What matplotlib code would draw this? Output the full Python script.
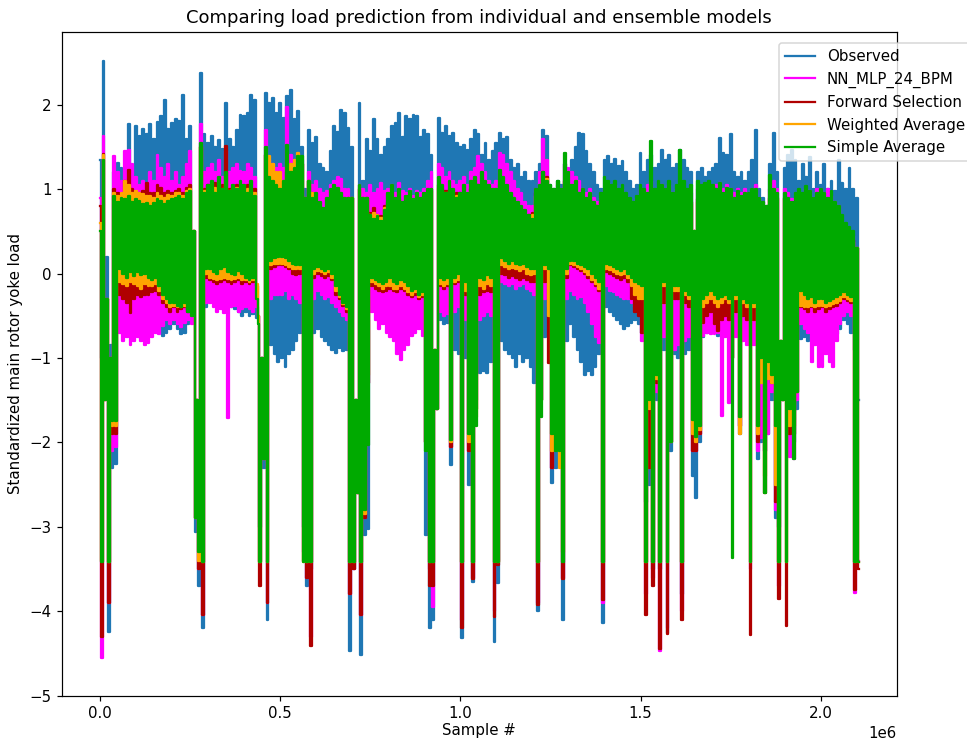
import numpy as np
import matplotlib
matplotlib.use("Agg")
import matplotlib.pyplot as plt

# envelope values, one pair (upper, lower) every 10k samples
STEP = 10000

obs_hi = [1.35, 2.52, 0.20, -0.85, 1.20, 1.31, 1.25, 1.18, 1.77, 1.22,
          1.75, 1.63, 1.71, 1.66, 1.77, 1.60, 1.80, 1.87, 2.06, 1.71,
          1.79, 1.83, 1.81, 2.12, 1.60, 1.75, 0.50, -1.50, 2.38, 1.65,
          1.55, 1.63, 1.50, 1.58, 1.48, 2.02, 1.60, 1.50, 1.70, 1.88,
          1.87, 1.90, 2.12, 2.06, -0.50, -1.00, 2.14, 2.02, 2.08, 1.90,
          2.02, 1.85, 2.10, 2.18, 1.83, 1.93, 1.50, 1.00, 1.70, 1.55,
          1.62, 1.30, 1.25, 1.20, 1.45, 1.75, 1.68, 1.94, 1.90, 1.73,
          1.50, -1.50, 2.02, 1.10, 1.60, 1.45, 1.83, 1.60, 1.40, 1.50,
          1.60, 1.75, 1.79, 1.90, 1.62, 1.87, 1.83, 1.88, 1.87, 1.62,
          1.70, 1.65, 1.40, -0.90, 1.85, 1.67, 1.75, 1.63, 1.67, 1.55,
          1.50, 1.52, 1.47, 1.60, 1.70, 1.65, 1.40, 1.55, 1.35, 1.45,
          1.55, 1.67, 1.60, 1.62, 1.35, 1.25, 1.30, 1.15, 1.20, 1.10,
          1.10, 1.20, 1.30, 1.70, 1.63, 1.05, 1.00, 1.10, 1.05, 1.30,
          1.20, 1.35, 1.50, 1.67, 1.65, 1.45, 1.30, 1.20, 1.05, 1.00,
          1.35, 1.39, 1.30, 1.36, 1.27, 1.33, 1.20, 1.10, 1.00, 1.05,
          1.43, 1.20, 1.35, 1.40, 1.25, 1.30, 1.47, 1.35, 1.40, 1.25,
          1.30, 1.47, 1.35, 1.25, 1.20, 0.50, 1.20, 1.25, 1.15, 1.20,
          1.25, 1.30, 1.61, 1.43, 1.40, 1.65, 1.20, 1.15, 1.20, 1.10,
          1.20, 1.35, 1.70, 1.00, 0.90, 0.80, 1.30, 1.67, 1.20, -0.80,
          1.25, 1.40, 1.47, 1.35, 1.10, 1.30, 1.15, 1.38, 1.00, 1.20,
          1.05, 1.30, 1.00, 1.10, 0.98, 1.35, 1.07, 1.00, 1.25, 1.00, 0.90]
obs_lo = [-1.00, -1.10, -4.25, -2.30, -2.25, -0.45, -0.40, -0.45, -0.40, -0.45,
          -0.40, -0.45, -0.40, -0.45, -0.50, -0.55, -0.60, -0.74, -0.70, -0.65,
          -0.60, -0.65, -0.72, -0.70, -0.60, -0.55, -3.06, -3.70, -4.20, -0.40,
          -0.30, -0.28, -0.32, -0.30, -0.35, -0.35, -0.40, -0.42, -0.45, -0.50,
          -0.45, -0.50, -0.48, -0.52, -3.00, -2.30, -4.10, -0.85, -0.95, -1.05,
          -1.00, -1.10, -0.95, -0.90, -0.80, -0.70, -3.00, -3.70, -3.50, -0.70,
          -0.65, -0.75, -0.80, -0.85, -0.90, -0.94, -0.88, -0.92, -0.90, -4.47,
          -3.50, -2.60, -4.52, -3.10, -3.03, -0.40, -0.45, -0.40, -0.42, -0.45,
          -0.45, -0.50, -0.45, -0.50, -0.48, -0.50, -0.45, -0.50, -0.45, -0.50,
          -3.10, -4.20, -4.10, -1.60, -0.55, -0.60, -0.58, -2.27, -0.90, -0.95,
          -4.32, -1.00, -2.50, -3.65, -1.10, -1.18, -1.15, -1.18, -1.05, -4.36,
          -3.67, -0.80, -0.90, -0.95, -1.00, -1.10, -0.95, -1.05, -1.00, -1.10,
          -1.30, -4.00, -1.50, -0.75, -0.70, -2.48, -2.30, -1.90, -4.10, -0.80,
          -0.60, -0.75, -0.90, -1.05, -1.20, -1.15, -1.20, -1.10, -0.95, -4.14,
          -0.40, -0.45, -0.50, -0.55, -0.60, -0.66, -0.62, -0.58, -0.55, -0.60,
          -0.70, -2.70, -2.50, -3.50, -1.50, -3.50, -0.90, -4.26, -2.10, -0.95,
          -1.00, -3.80, -0.95, -0.90, -2.40, -2.66, -2.00, -0.75, -0.70, -0.65,
          -0.70, -0.74, -0.70, -0.72, -0.68, -1.00, -0.70, -1.90, -0.75, -0.80,
          -0.85, -0.80, -2.20, -2.00, -2.10, -1.90, -1.50, -2.90, -3.00, -1.50,
          -1.00, -2.10, -2.00, -1.60, -0.78, -0.75, -0.80, -0.78, -0.75, -0.80,
          -0.78, -0.80, -0.75, -0.78, -0.72, -0.65, -0.55, -0.60, -0.70, -0.90, -1.50]

nn_hi = [0.90, 1.63, -0.30, -1.00, 1.39, 1.20, 1.10, 1.45, 1.47, 1.30,
         1.15, 1.05, 1.10, 1.02, 1.20, 1.10, 1.40, 1.25, 1.15, 1.30,
         1.10, 1.20, 1.05, 1.15, 1.30, 1.45, 0.50, -1.50, 1.77, 1.20,
         1.25, 1.30, 1.20, 1.35, 1.15, 1.45, 1.20, 1.25, 1.30, 1.22,
         1.20, 1.30, 1.25, 1.15, -0.50, -1.00, 1.70, 1.35, 1.30, 1.25,
         1.30, 1.25, 1.98, 1.40, 1.35, 1.30, 1.35, 0.90, 1.20, 1.05,
         1.10, 1.00, 0.95, 0.98, 1.05, 1.10, 1.15, 1.12, 1.00, 1.00,
         0.90, -1.50, 1.05, 1.00, 0.95, 1.05, 0.95, 1.00, 1.07, 0.98,
         1.00, 1.05, 0.95, 1.07, 0.98, 0.95, 1.00, 0.92, 0.98, 0.95,
         1.00, 1.10, 1.20, -0.90, 1.30, 1.25, 1.15, 1.20, 1.10, 1.05,
         1.10, 1.15, 1.05, 1.20, 1.25, 1.39, 1.30, 1.20, 1.10, 1.05,
         1.10, 1.43, 1.40, 1.30, 1.20, 1.10, 1.00, 0.95, 0.85, 0.80,
         0.80, 1.00, 1.20, 1.59, 1.35, 1.00, 0.95, 1.05, 1.00, 1.30,
         1.25, 1.20, 1.15, 1.10, 1.00, 0.95, 1.00, 0.90, 0.85, 0.90,
         1.00, 1.07, 1.00, 1.05, 0.95, 1.00, 0.92, 0.88, 0.84, 0.90,
         1.00, 0.95, 1.05, 1.10, 0.95, 1.00, 1.05, 1.00, 1.05, 0.95,
         1.00, 1.05, 1.00, 0.95, 0.95, 0.50, 1.00, 1.05, 1.00, 1.02,
         1.02, 1.05, 1.07, 1.00, 1.05, 1.00, 0.95, 1.00, 0.95, 1.00,
         0.95, 1.00, 1.05, 0.90, 0.85, 0.75, 1.00, 1.10, 1.00, -0.80,
         1.00, 0.95, 0.88, 0.90, 0.95, 0.92, 1.00, 0.98, 0.90, 1.00,
         1.00, 0.95, 1.00, 0.92, 0.85, 0.80, 0.60, 0.55, 0.50, 0.45, 0.30]
nn_lo = [-4.55, -1.50, -3.90, -2.10, -2.05, -0.70, -0.80, -0.75, -0.85, -0.80,
         -0.75, -0.80, -0.85, -0.82, -0.75, -0.70, -0.72, -0.62, -0.55, -0.60,
         -0.55, -0.60, -0.63, -0.58, -0.55, -0.60, -2.90, -3.50, -4.05, -0.35,
         -0.35, -0.40, -0.45, -0.42, -0.47, -1.71, -0.40, -0.38, -0.45, -0.42,
         -0.40, -0.42, -0.45, -0.40, -3.40, -2.20, -3.90, -0.30, -0.25, -0.25,
         -0.25, -0.20, -0.30, -0.25, -0.30, -0.35, -3.30, -3.60, -4.30, -0.30,
         -0.20, -0.25, -0.30, -0.28, -0.35, -0.40, -0.45, -0.50, -0.55, -3.80,
         -3.50, -2.60, -4.05, -2.90, -1.30, -0.45, -0.55, -0.66, -0.60, -0.70,
         -0.75, -0.80, -0.95, -1.02, -0.90, -0.85, -0.74, -0.70, -0.65, -0.74,
         -2.00, -3.50, -3.95, -1.60, -0.45, -0.50, -0.48, -2.05, -0.45, -0.40,
         -4.10, -0.55, -2.10, -3.60, -1.50, -0.55, -0.50, -0.45, -0.50, -4.00,
         -3.40, -0.10, -0.12, -0.15, -0.12, -0.18, -0.15, -0.12, -0.18, -0.20,
         -0.25, -3.90, -1.50, -0.30, -0.40, -2.30, -2.00, -1.90, -3.60, -0.30,
         -0.20, -0.25, -0.30, -0.28, -0.35, -0.45, -0.60, -0.75, -0.82, -3.90,
         -0.15, -0.20, -0.22, -0.25, -0.28, -0.30, -0.30, -0.35, -0.40, -0.45,
         -0.80, -3.80, -2.30, -3.60, -1.40, -4.47, -0.75, -4.20, -2.00, -0.90,
         -0.85, -4.00, -0.80, -0.75, -2.10, -2.10, -1.90, -0.74, -0.70, -0.72,
         -0.72, -0.70, -1.69, -0.75, -1.53, -1.00, -0.75, -1.80, -0.80, -0.85,
         -3.50, -0.85, -2.10, -1.95, -2.10, -1.90, -1.40, -2.80, -3.70, -1.50,
         -1.00, -2.17, -2.20, -1.50, -0.60, -0.65, -0.70, -1.05, -0.85, -1.10,
         -1.10, -0.95, -1.05, -1.10, -0.80, -0.60, -0.50, -0.45, -0.50, -3.78, -3.40]

fs_hi = [0.80, 1.42, -0.30, -1.00, 1.00, 0.95, 0.90, 1.10, 1.23, 1.00,
         0.92, 0.95, 0.98, 1.07, 0.95, 0.96, 1.05, 1.02, 0.95, 0.98,
         0.95, 0.98, 1.00, 0.95, 1.02, 1.05, 0.50, -1.50, 1.50, 1.00,
         1.05, 1.00, 1.08, 1.02, 1.05, 1.51, 1.00, 1.02, 1.05, 1.00,
         1.00, 1.05, 1.02, 1.00, -0.50, -1.00, 1.40, 1.10, 1.08, 1.12,
         1.10, 1.05, 1.20, 1.10, 1.15, 1.20, 1.30, 0.90, 1.10, 0.95,
         0.80, 0.72, 0.70, 0.75, 0.85, 0.90, 0.95, 0.92, 0.85, 0.90,
         0.90, -1.50, 1.00, 0.90, 0.90, 0.72, 0.78, 0.70, 0.68, 0.80,
         0.85, 0.90, 0.85, 0.88, 0.80, 0.82, 0.85, 0.80, 0.78, 0.82,
         0.85, 0.95, 1.00, -0.90, 1.05, 1.00, 0.98, 1.00, 0.95, 0.95,
         0.95, 0.95, 0.90, 1.00, 1.00, 1.05, 1.02, 0.98, 0.95, 0.95,
         0.95, 1.05, 1.00, 0.95, 0.90, 0.85, 0.80, 0.75, 0.70, 0.70,
         0.72, 0.95, 1.00, 1.20, 1.15, 0.95, 0.90, 1.00, 0.95, 1.10,
         1.05, 1.00, 0.95, 0.92, 0.88, 0.85, 0.88, 0.82, 0.80, 0.85,
         0.85, 0.90, 0.85, 0.88, 0.82, 0.85, 0.80, 0.78, 0.75, 0.78,
         0.85, 0.90, 0.88, 0.95, 0.85, 0.90, 0.92, 0.90, 0.88, 0.85,
         0.88, 0.90, 0.88, 0.85, 0.85, 0.50, 0.88, 0.90, 0.88, 0.90,
         0.90, 0.92, 0.95, 0.90, 0.92, 0.90, 0.85, 0.88, 0.85, 0.88,
         0.85, 0.88, 0.90, 0.85, 0.80, 0.70, 0.90, 0.95, 0.90, -0.80,
         0.90, 0.85, 0.56, 0.85, 0.88, 0.85, 0.90, 0.88, 0.85, 0.88,
         0.88, 0.85, 0.88, 0.82, 0.78, 0.70, 0.55, 0.50, 0.45, 0.40, 0.30]
fs_lo = [-4.30, -1.50, -3.90, -1.90, -1.90, -0.25, -0.30, -0.35, -0.47, -0.30,
         -0.25, -0.28, -0.25, -0.25, -0.22, -0.20, -0.25, -0.35, -0.40, -0.45,
         -0.40, -0.45, -0.42, -0.40, -0.45, -0.40, -2.90, -3.50, -4.05, -0.05,
         -0.08, -0.10, -0.12, -0.10, -0.08, -0.10, -0.12, -0.10, -0.08, -0.12,
         -0.10, -0.12, -0.10, -0.15, -3.70, -2.20, -3.90, 0.05, 0.08, 0.10,
         0.10, 0.08, 0.05, 0.00, -0.02, 0.00, -3.40, -3.60, -4.41, -0.05,
         0.00, -0.03, -0.05, -0.03, -0.08, -0.25, -0.30, -0.38, -0.45, -3.80,
         -3.50, -2.60, -4.05, -2.90, -1.30, -0.15, -0.18, -0.20, -0.22, -0.20,
         -0.18, -0.20, -0.22, -0.18, -0.20, -0.25, -0.28, -0.25, -0.30, -0.28,
         -2.00, -3.70, -3.70, -1.60, -0.15, -0.18, -0.15, -2.05, -0.12, -0.10,
         -4.20, -0.25, -2.10, -3.62, -1.60, -0.25, -0.22, -0.20, -0.22, -4.07,
         -3.45, 0.00, -0.02, -0.05, -0.03, -0.05, -0.07, -0.05, -0.08, -0.10,
         -0.10, -3.93, -1.50, -0.10, -1.06, -2.30, -2.00, -1.90, -3.62, -0.05,
         0.10, 0.08, 0.05, 0.03, 0.00, -0.05, -0.10, -0.15, -0.20, -3.87,
         0.02, 0.00, -0.03, -0.05, -0.07, -0.05, -0.10, -0.30, -0.45, -0.50,
         -0.70, -4.05, -2.30, -3.70, -1.30, -4.45, -0.35, -4.27, -2.00, -0.30,
         -0.30, -4.10, -0.35, -0.40, -2.10, -2.10, -1.90, -0.58, -0.50, -0.45,
         -0.60, -0.68, -0.55, -0.50, -0.55, -1.00, -0.45, -1.80, -0.50, -0.55,
         -4.28, -0.55, -2.00, -1.18, -2.60, -1.10, -1.30, -2.70, -3.86, -1.50,
         -4.18, -1.90, -1.90, -1.40, -0.40, -0.42, -0.45, -0.40, -0.45, -0.42,
         -0.40, -0.45, -0.42, -0.40, -0.38, -0.35, -0.30, -0.32, -0.35, -3.75, -3.50]

wa_hi = [0.60, 1.40, -0.30, -1.00, 0.95, 0.92, 0.95, 1.10, 1.05, 0.95,
         0.98, 0.96, 0.94, 0.92, 0.92, 0.90, 0.95, 0.92, 0.90, 0.93,
         0.92, 0.95, 0.95, 0.92, 0.98, 1.00, 0.50, -1.50, 1.50, 0.98,
         1.00, 0.98, 1.02, 1.00, 1.00, 1.10, 0.98, 1.00, 1.02, 0.98,
         0.98, 1.00, 0.98, 0.96, -0.50, -1.00, 1.40, 1.39, 1.30, 1.20,
         1.20, 1.10, 1.25, 1.30, 1.35, 1.43, 1.30, 0.90, 1.10, 0.95,
         0.78, 0.70, 0.68, 0.72, 0.82, 0.88, 0.92, 0.90, 0.82, 0.88,
         0.90, -1.50, 1.00, 0.90, 0.88, 0.70, 0.72, 0.69, 0.66, 0.78,
         0.82, 0.88, 0.82, 0.85, 0.78, 0.80, 0.82, 0.78, 0.76, 0.80,
         0.82, 0.92, 0.98, -0.90, 1.02, 0.98, 0.95, 0.98, 0.92, 0.92,
         0.92, 0.92, 0.88, 0.98, 0.98, 1.00, 1.00, 0.95, 0.92, 0.92,
         0.92, 1.02, 0.98, 0.92, 0.88, 0.82, 0.78, 0.72, 0.68, 0.68,
         0.70, 0.92, 0.98, 1.18, 1.12, 0.92, 0.88, 0.98, 0.92, 1.08,
         1.02, 0.98, 0.92, 0.90, 0.85, 0.82, 0.85, 0.80, 0.78, 0.82,
         0.82, 0.88, 0.82, 0.85, 0.80, 0.82, 0.78, 0.76, 0.72, 0.75,
         0.82, 0.88, 0.85, 0.92, 0.82, 0.88, 0.90, 0.88, 0.85, 0.82,
         0.85, 0.88, 0.85, 0.82, 0.82, 0.50, 0.85, 0.88, 0.85, 0.88,
         0.88, 0.90, 0.92, 0.88, 0.90, 0.88, 0.82, 0.85, 0.82, 0.85,
         0.82, 0.85, 0.88, 0.82, 0.78, 0.68, 0.88, 0.92, 0.88, -0.80,
         0.88, 0.82, 0.80, 0.82, 0.85, 0.82, 0.88, 0.85, 0.82, 0.85,
         0.85, 0.82, 0.85, 0.80, 0.75, 0.68, 0.50, 0.45, 0.40, 0.38, 0.30]
wa_lo = [-3.40, -1.50, -3.42, -1.80, -1.80, -0.10, -0.12, -0.15, -0.10, -0.12,
         -0.15, -0.18, -0.12, -0.15, -0.15, -0.12, -0.20, -0.30, -0.35, -0.40,
         -0.38, -0.40, -0.40, -0.38, -0.42, -0.40, -2.90, -3.40, -3.42, 0.00,
         -0.05, -0.06, -0.08, -0.06, -0.05, -0.06, -0.08, -0.06, -0.05, -0.08,
         -0.08, -0.10, -0.08, -0.12, -3.42, -2.20, -3.42, 0.10, 0.12, 0.12,
         0.12, 0.10, 0.08, 0.05, 0.05, 0.05, -3.42, -3.42, -3.42, 0.00,
         0.03, 0.02, 0.00, 0.02, -0.05, -0.20, -0.28, -0.36, -0.42, -3.42,
         -3.42, -2.60, -3.42, -2.85, -1.20, -0.10, -0.12, -0.15, -0.18, -0.15,
         -0.15, -0.18, -0.18, -0.15, -0.18, -0.22, -0.25, -0.22, -0.28, -0.25,
         -2.00, -3.42, -3.42, -1.60, -0.12, -0.15, -0.12, -2.00, -0.10, -0.08,
         -3.42, -0.20, -2.00, -3.42, -1.70, -0.15, -0.18, -0.12, -0.15, -3.42,
         -3.42, 0.10, 0.08, 0.05, 0.07, 0.05, 0.03, 0.05, 0.00, -0.02,
         0.00, -3.42, -1.50, 0.05, -0.50, -2.10, -2.00, -2.30, -3.30, 0.00,
         0.12, 0.10, 0.08, 0.06, 0.02, -0.02, -0.08, -0.12, -0.18, -3.42,
         0.06, 0.04, 0.02, 0.00, -0.02, 0.00, -0.05, -0.15, -0.25, -0.30,
         -0.30, -3.42, -1.60, -3.42, -1.25, -3.42, -0.15, -3.42, -2.00, -0.20,
         -0.20, -3.42, -0.25, -0.30, -1.90, -2.00, -1.85, -0.40, -0.35, -0.30,
         -0.35, -0.40, -0.35, -0.30, -0.35, -1.00, -0.30, -1.90, -0.35, -0.40,
         -3.42, -0.40, -1.90, -1.30, -2.40, -1.25, -1.30, -2.50, -3.42, -1.50,
         -3.42, -1.80, -1.80, -1.40, -0.38, -0.40, -0.40, -0.38, -0.40, -0.38,
         -0.38, -0.40, -0.38, -0.36, -0.35, -0.32, -0.28, -0.30, -0.32, -3.42, -3.42]

sa_hi = [0.50, 1.35, -0.30, -1.00, 0.92, 0.85, 0.90, 0.88, 0.92, 0.85,
         0.88, 0.86, 0.82, 0.84, 0.80, 0.84, 0.88, 0.86, 0.82, 0.86,
         0.88, 0.90, 0.92, 0.88, 0.95, 0.98, 0.50, -1.50, 1.55, 0.95,
         1.05, 1.10, 0.95, 1.15, 1.00, 1.20, 0.98, 1.05, 1.00, 1.10,
         1.05, 0.95, 1.10, 0.92, -0.60, -1.00, 1.50, 1.15, 1.10, 1.05,
         1.00, 1.10, 1.53, 1.20, 1.25, 1.39, 1.39, 0.90, 1.10, 0.90,
         0.95, 0.85, 0.78, 0.90, 1.00, 1.05, 1.02, 0.95, 0.90, 0.90,
         0.90, -1.50, 1.05, 0.90, 0.90, 0.70, 0.65, 0.68, 0.62, 0.75,
         0.95, 1.05, 0.90, 1.00, 0.85, 0.92, 0.98, 0.88, 0.95, 0.90,
         0.95, 1.00, 1.00, -0.90, 1.15, 1.05, 0.95, 1.10, 1.00, 0.90,
         0.95, 1.05, 0.95, 1.10, 1.15, 1.05, 1.20, 1.10, 1.05, 1.00,
         1.00, 1.23, 1.15, 1.05, 0.95, 0.90, 0.85, 0.80, 0.75, 0.70,
         0.65, 1.00, 1.05, 1.20, 1.10, 1.05, 1.00, 1.10, 1.00, 1.43,
         1.20, 1.05, 1.10, 0.95, 1.00, 0.90, 0.95, 0.85, 0.80, 0.95,
         1.15, 1.10, 1.05, 1.10, 1.00, 1.05, 0.95, 0.90, 0.85, 0.92,
         1.05, 1.00, 0.95, 1.57, 1.00, 1.10, 1.05, 1.00, 1.10, 0.95,
         1.05, 1.47, 1.10, 1.00, 1.05, 0.50, 1.10, 1.05, 1.08, 1.10,
         1.05, 1.00, 1.07, 0.95, 1.02, 1.00, 0.90, 0.98, 0.92, 0.95,
         0.95, 1.00, 1.00, 0.90, 0.85, 0.80, 1.17, 1.00, 0.95, -0.80,
         0.95, 0.90, 0.85, 0.95, 1.00, 0.95, 1.04, 0.98, 0.90, 0.95,
         1.00, 0.95, 0.90, 0.98, 0.85, 0.80, 0.70, 0.60, 0.55, 0.50, 0.30]
sa_lo = [-3.42, -1.50, -3.42, -1.75, -1.75, 0.05, 0.00, -0.05, 0.02, -0.03,
         0.02, -0.02, 0.00, -0.05, -0.08, -0.05, -0.15, -0.25, -0.30, -0.35,
         -0.35, -0.38, -0.40, -0.35, -0.45, -0.50, -2.90, -3.30, -3.42, 0.05,
         0.05, 0.02, 0.00, 0.05, 0.08, 0.02, 0.00, -0.02, 0.03, 0.00,
         -0.05, -0.08, -0.05, -0.30, -3.42, -2.20, -3.42, 0.15, 0.18, 0.20,
         0.20, 0.18, 0.15, 0.12, 0.10, 0.10, -3.42, -3.42, -3.42, 0.05,
         0.08, 0.05, 0.03, 0.05, 0.00, -0.15, -0.25, -0.35, -0.40, -3.42,
         -3.42, -2.60, -3.42, -2.80, -2.03, -0.05, -0.08, -0.10, -0.12, -0.10,
         -0.05, -0.10, -0.12, -0.08, -0.10, -0.15, -0.20, -0.18, -0.25, -0.22,
         -2.10, -3.42, -3.42, -1.60, -0.05, -0.08, -0.05, -1.97, -0.05, 0.00,
         -3.42, -0.10, -1.90, -3.42, -1.80, -0.05, -0.08, -0.02, -0.05, -3.42,
         -3.42, 0.18, 0.15, 0.12, 0.15, 0.12, 0.10, 0.12, 0.08, 0.05,
         0.05, -3.42, -1.70, 0.10, 0.05, -1.90, -2.10, -2.10, -3.42, 0.05,
         0.15, 0.15, 0.12, 0.10, 0.08, 0.05, 0.00, -0.05, -0.10, -3.42,
         0.12, 0.10, 0.08, 0.05, 0.03, 0.05, 0.00, -0.05, -0.10, -0.12,
         -0.15, -3.42, -1.50, -3.42, -1.20, -3.42, -0.10, -3.42, -2.00, -0.15,
         -0.15, -3.42, -0.20, -0.25, -1.73, -1.93, -1.80, -0.30, -0.25, -0.20,
         -0.25, -0.30, -0.28, -0.25, -0.30, -3.37, -0.25, -1.70, -0.30, -0.35,
         -3.42, -0.35, -1.80, -1.00, -2.60, -1.05, -1.20, -1.80, -3.42, -1.50,
         -3.42, -1.60, -2.20, -1.40, -0.20, -0.25, -0.30, -0.28, -0.35, -0.30,
         -0.30, -0.35, -0.32, -0.30, -0.28, -0.25, -0.22, -0.25, -0.28, -3.42, -3.42]

labels = ["Observed", "NN_MLP_24_BPM", "Forward Selection",
          "Weighted Average", "Simple Average"]
colors = ["#1f77b4", "#ff00ff", "#b00000", "#ffa500", "#00aa00"]


def zigzag(hi, lo):
    """Interleave upper/lower readings so the dense signal fills its band."""
    hi, lo = np.asarray(hi), np.asarray(lo)
    assert len(hi) == len(lo)
    idx = np.arange(len(hi)) * STEP
    x = np.column_stack([idx, idx + STEP // 2]).ravel()
    y = np.column_stack([hi, lo]).ravel()
    return x, y


series = [(obs_hi, obs_lo), (nn_hi, nn_lo), (fs_hi, fs_lo),
          (wa_hi, wa_lo), (sa_hi, sa_lo)]

DPI = 108
fig = plt.figure(figsize=(967 / DPI, 740 / DPI), dpi=DPI)
ax = fig.add_axes([0.0641, 0.0599, 0.8630, 0.8965])
for (hi, lo), lab, col in zip(series, labels, colors):
    x, y = zigzag(hi, lo)
    ax.plot(x, y, color=col, lw=1.5, label=lab, drawstyle="steps-mid")

ax.set_ylim(-5.0, 2.86)
ax.set_title("Comparing load prediction from individual and ensemble models")
ax.set_xlabel("Sample #", labelpad=1.5)
ax.set_ylabel("Standardized main rotor yoke load")
ax.legend(loc="upper left", bbox_to_anchor=(779 / 967, 1 - 43 / 740),
          bbox_transform=fig.transFigure, borderaxespad=0.0)

fig.savefig("out.png", dpi=DPI)
